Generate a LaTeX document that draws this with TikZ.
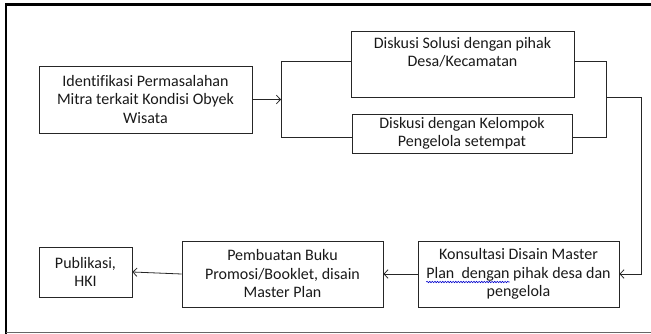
\documentclass[tikz,border=0pt]{standalone}
\usepackage{fontspec}
\setmainfont{Carlito}[Ligatures=CommonOff]
\usetikzlibrary{arrows.meta,decorations.pathmorphing,calc}
\newlength\kslineW
\newlength\ksplanW
\begin{document}
\settowidth{\kslineW}{\fontsize{16}{18.5}\selectfont Plan\ \ dengan pihak desa dan}
\settowidth{\ksplanW}{\fontsize{16}{18.5}\selectfont Plan\ \ dengan}
\begin{tikzpicture}[x=1pt,y=-1pt,
  box/.style={draw=black!85, line width=0.9pt, align=center, inner sep=0pt,
    font=\fontsize{16}{18.5}\selectfont, text=black!90},
  conn/.style={line width=0.8pt, draw=black!85},
  arr/.style={conn, -{Straight Barb[length=4pt,width=8.5pt]}}]
\useasboundingbox (0,0) rectangle (651,334);
% frame
\draw[line width=2.2pt] (6,334) -- (6,4.5) -- (651,4.5);
\draw[black!60, line width=1.2pt] (6,332.8) -- (651,332.8);
% nodes
\node[box, minimum width=213pt, minimum height=67pt] (id) at (145.5,99.5)
  {Identifikasi Permasalahan\\Mitra terkait Kondisi Obyek\\Wisata};
\node[box, minimum width=223pt, minimum height=66pt] (ds) at (462.5,64)
  {Diskusi Solusi dengan pihak\\Desa/Kecamatan\\\strut};
\node[box, minimum width=220pt, minimum height=39pt] (dk) at (462,133.5)
  {Diskusi dengan Kelompok\\Pengelola setempat};
\node[box, minimum width=201pt, minimum height=66pt] (ks) at (518.5,274)
  {Konsultasi Disain Master\\Plan\ \ dengan pihak desa dan\\pengelola};
\node[box, minimum width=201pt, minimum height=66pt] (pb) at (282.5,274)
  {Pembuatan Buku\\Promosi/Booklet, disain\\Master Plan};
\node[box, minimum width=93pt, minimum height=50pt] (pu) at (85.5,272)
  {Publikasi,\\HKI};
% spell-check underline
\coordinate (ulA) at ($(ks.center)+(-0.5\kslineW,-8pt)$);
\draw[blue!80!black, line width=0.6pt, decorate,
  decoration={snake, segment length=2.6pt, amplitude=0.7pt}]
  (ulA) -- ++(\ksplanW,0);
% left bracket
\coordinate (blt) at (281,61);
\coordinate (blb) at (281,137);
\draw[arr] (id.east) -- (id.east -| blt);
\draw[conn] (blt) -- (blb);
\draw[conn] (blt) -- (blt -| ds.west);
\draw[conn] (blb) -- (blb -| dk.west);
% right bracket
\coordinate (brt) at (606,61);
\coordinate (brb) at (606,137);
\coordinate (brm) at (606,97);
\coordinate (rc) at (641,97);
\draw[conn] (brt -| ds.east) -- (brt) -- (brb) -- (brb -| dk.east);
\draw[arr] (brm) -- (rc) -- (rc |- ks.east) -- (ks.east);
% bottom row
\draw[arr] (ks.west) -- (pb.east);
\draw[arr] (pb.west) -- (pu.east);
\end{tikzpicture}
\end{document}
